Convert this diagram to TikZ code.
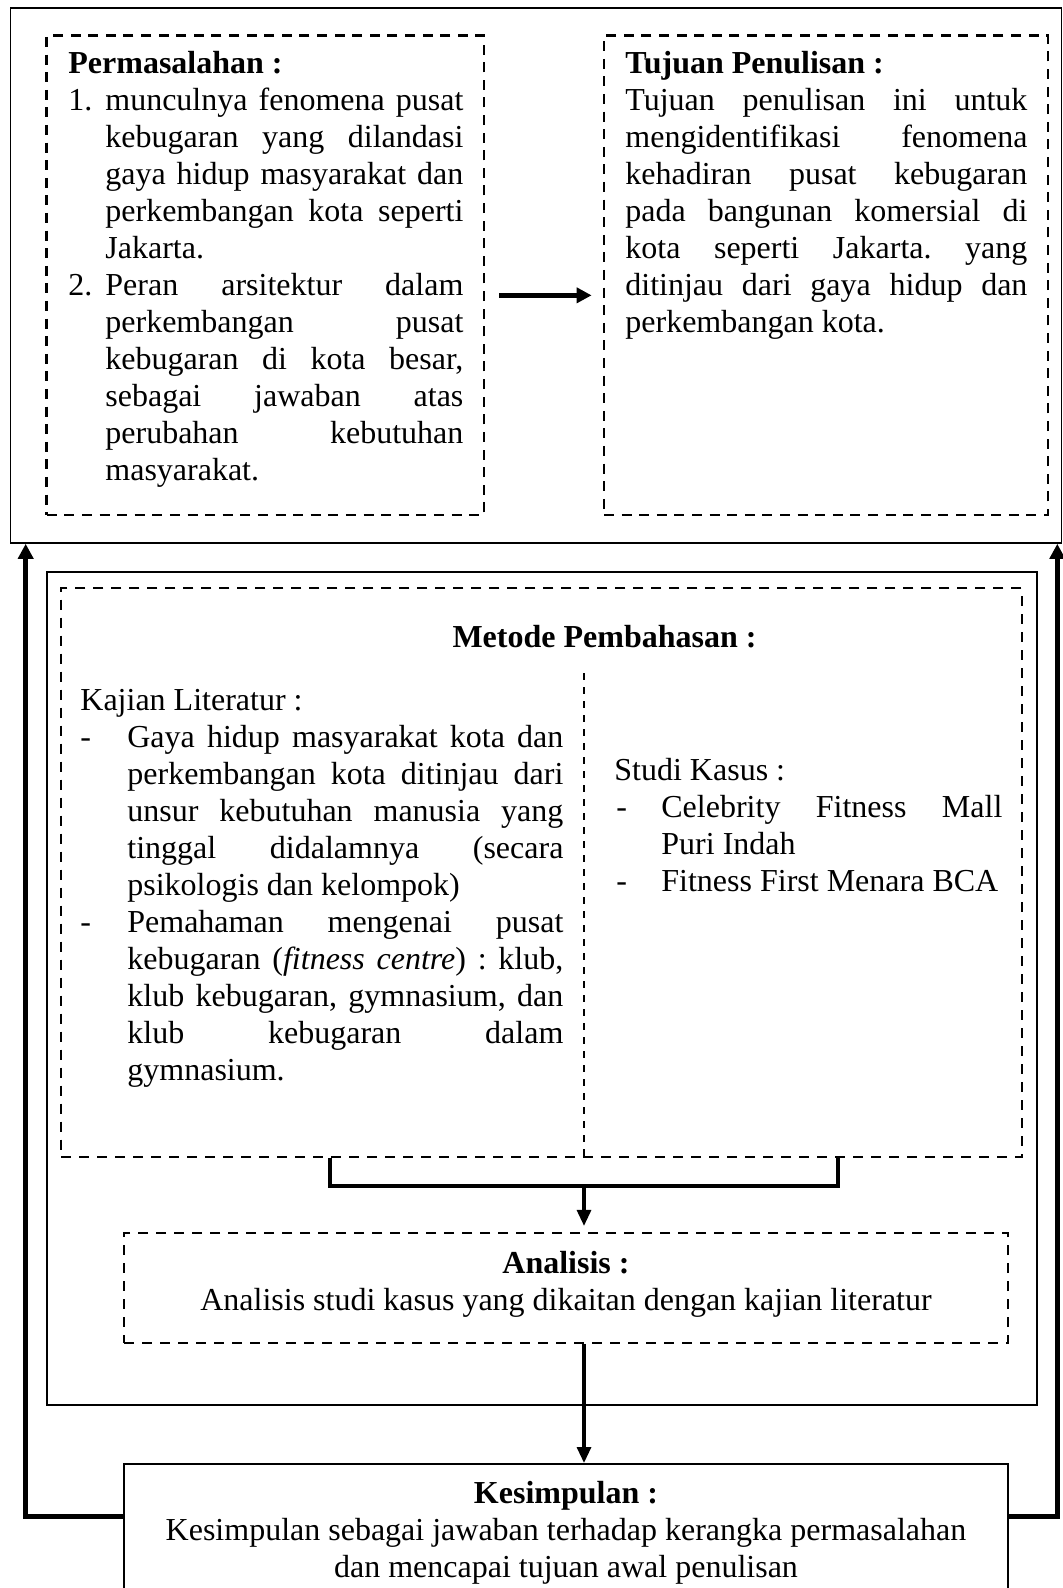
\documentclass[tikz,border=0pt]{standalone}
\usepackage{fontspec}
\setmainfont{Liberation Serif}
\usetikzlibrary{arrows.meta,fit}
\newcommand{\fixsp}{\frenchspacing\spaceskip=.25em\relax\xspaceskip=\spaceskip}
\newcommand{\jl}[2]{\leavevmode\hbox to #1{\spaceskip=.25em plus 1fil minus .06em\xspaceskip=\spaceskip #2}}
\begin{document}
\begin{tikzpicture}[x=0.5pt,y=-0.5pt,
  txt/.style={inner sep=0pt, anchor=base west, align=left, font=\fontsize{16pt}{18.5pt}\selectfont},
  ctxt/.style={inner sep=0pt, anchor=base, align=center, text width=440pt, font=\fontsize{16pt}{18.5pt}\selectfont},
  ttl/.style={inner sep=0pt, anchor=base, font=\fontsize{16pt}{18.5pt}\selectfont\bfseries},
  solidbox/.style={inner sep=0pt, draw, line width=0.8pt},
  kesbox/.style={inner sep=0pt, draw, line width=1pt},
  dbox/.style={inner sep=0pt, draw, line width=1.4pt, dash pattern=on 5pt off 3.8pt},
  mdbox/.style={inner sep=0pt, draw, line width=1.1pt, dash pattern=on 5pt off 4pt},
  divline/.style={line width=1pt, dash pattern=on 3.7pt off 3.3pt},
  bigarrow/.style={line width=2.5pt, -{Triangle[length=7.5pt,width=7.5pt]}},
  midarrow/.style={line width=2.4pt, -{Triangle[length=7.5pt,width=7.5pt]}},
  downarrow/.style={line width=1.6pt, -{Triangle[length=8pt,width=7pt]}},
  bracketline/.style={line width=2.2pt}
]
\useasboundingbox (0,0) rectangle (1063,1588);

% boxes
\node[solidbox, fit={(10.5,8) (1061.5,543)}] (top) {};
\node[dbox, fit={(46.7,35.7) (484,515)}] (perm) {};
\node[dbox, fit={(604,35.7) (1048,515)}] (tuj) {};
\node[solidbox, line width=1pt, fit={(47,572) (1036.5,1405)}] (met) {};
\node[mdbox, fit={(61,588) (1021.7,1157)}] (metd) {};
\node[mdbox, fit={(124,1233) (1008,1343)}] (ana) {};
\node[kesbox, fit={(124,1464) (1008,1600)}] (kes) {};

% texts
\node[txt, text width=197.5pt] (permtxt) at (68,74) {\fixsp
\textbf{Permasalahan :}\\
\makebox[18.5pt][l]{1.}\jl{179pt}{munculnya fenomena pusat}\\
\hspace*{18.5pt}\jl{179pt}{kebugaran yang dilandasi}\\
\hspace*{18.5pt}\jl{179pt}{gaya hidup masyarakat dan}\\
\hspace*{18.5pt}\jl{179pt}{perkembangan kota seperti}\\
\hspace*{18.5pt}Jakarta.\\
\makebox[18.5pt][l]{2.}\jl{179pt}{Peran arsitektur dalam}\\
\hspace*{18.5pt}\jl{179pt}{perkembangan pusat}\\
\hspace*{18.5pt}\jl{179pt}{kebugaran di kota besar,}\\
\hspace*{18.5pt}\jl{179pt}{sebagai jawaban atas}\\
\hspace*{18.5pt}\jl{179pt}{perubahan kebutuhan}\\
\hspace*{18.5pt}masyarakat.};

\node[txt, text width=201pt] (tujtxt) at (625,74) {\fixsp
\textbf{Tujuan Penulisan :}\\
\jl{201pt}{Tujuan penulisan ini untuk}\\
\jl{201pt}{mengidentifikasi fenomena}\\
\jl{201pt}{kehadiran pusat kebugaran}\\
\jl{201pt}{pada bangunan komersial di}\\
\jl{201pt}{kota seperti Jakarta. yang}\\
\jl{201pt}{ditinjau dari gaya hidup dan}\\
perkembangan kota.};

\node[ttl] (mettitle) at (604.5,647) {\fixsp Metode Pembahasan :};

\node[txt, text width=241.5pt] (kajtxt) at (80,710) {\fixsp
Kajian Literatur :\\
\makebox[23.5pt][l]{-}\jl{218pt}{Gaya hidup masyarakat kota dan}\\
\hspace*{23.5pt}\jl{218pt}{perkembangan kota ditinjau dari}\\
\hspace*{23.5pt}\jl{218pt}{unsur kebutuhan manusia yang}\\
\hspace*{23.5pt}\jl{218pt}{tinggal didalamnya (secara}\\
\hspace*{23.5pt}psikologis dan kelompok)\\
\makebox[23.5pt][l]{-}\jl{218pt}{Pemahaman mengenai pusat}\\
\hspace*{23.5pt}\jl{218pt}{kebugaran (\textit{fitness centre}) : klub,}\\
\hspace*{23.5pt}\jl{218pt}{klub kebugaran, gymnasium, dan}\\
\hspace*{23.5pt}\jl{218pt}{klub kebugaran dalam}\\
\hspace*{23.5pt}gymnasium.};

\node[txt, text width=194pt] (studitxt) at (614,780) {\fixsp
Studi Kasus :\\
\makebox[23.5pt][l]{\hspace{1pt}-}\jl{170.5pt}{Celebrity Fitness Mall}\\
\hspace*{23.5pt}Puri Indah\\
\makebox[23.5pt][l]{\hspace{1pt}-}Fitness First Menara BCA};

\node[ctxt] (anatxt) at (566,1273) {\fixsp\textbf{Analisis :}\\Analisis studi kasus yang dikaitan dengan kajian literatur};
\node[ctxt] (kestxt) at (566,1503) {\fixsp\textbf{Kesimpulan :}\\Kesimpulan sebagai jawaban terhadap kerangka permasalahan\\dan mencapai tujuan awal penulisan};

% connectors
\draw[midarrow] ([shift={(14,20)}]perm.east) -- ([shift={(-11,20)}]tuj.west);
\draw[bigarrow] ([yshift=8pt]kes.west) -| ([xshift=8pt]top.south west);
\draw[bigarrow] ([yshift=8pt]kes.east) -| ([xshift=-2.5pt]top.south east);

\coordinate (dtop) at (584,673);
\coordinate (bl) at (330,1186);
\coordinate (br) at (838,1186);
\coordinate (anatop) at ([yshift=3pt]ana.north);
\draw[divline] (dtop) -- (dtop |- metd.south);
\draw[bracketline] (metd.south -| bl) -- (bl) -- (br) -- (metd.south -| br);
\draw[downarrow] (bl -| dtop) -- (anatop -| dtop);
\draw[downarrow] (ana.south -| dtop) -- (kes.north -| dtop);
\end{tikzpicture}
\end{document}
